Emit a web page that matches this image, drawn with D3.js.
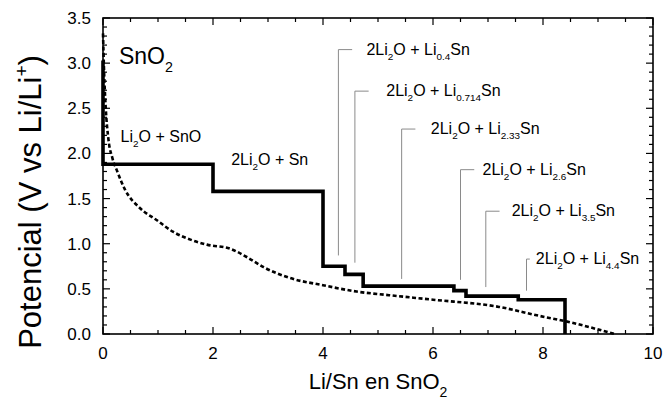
<!DOCTYPE html>
<html>
<head>
<meta charset="utf-8">
<script src="https://cdn.jsdelivr.net/npm/d3@7"></script>
<style>
  body { margin: 0; background: #fff; }
  svg { display: block; font-family: "Liberation Sans", Arial, sans-serif; }
</style>
</head>
<body>
<svg id="chart"></svg>
<script>
// plateau (step) curve: x in Li/Sn, potential in V
const plateauX = [0, 0, 2.0, 4.0, 4.4, 4.73, 6.38, 6.6, 7.55, 8.4]
const plateauV = [3.03, 1.88, 1.58, 0.75, 0.66, 0.53, 0.48, 0.42, 0.38, 0]

// measured discharge curve (dotted)
const curveX = [0, 0.02, 0.05, 0.1, 0.17, 0.26, 0.4, 0.68, 0.98, 1.28, 1.59, 1.89, 2.31, 2.62, 2.92, 3.4, 4.0, 4.61, 5.2, 6.0, 7.2, 7.94, 8.42, 9.3]
const curveV = [3.33, 2.9, 2.5, 2.15, 1.95, 1.8, 1.6, 1.39, 1.26, 1.13, 1.045, 0.99, 0.945, 0.85, 0.74, 0.62, 0.54, 0.47, 0.43, 0.38, 0.30, 0.2, 0.14, 0]

// phase annotations with leader lines
const phaseSub = ['0.4', '0.714', '2.33', '2.6', '3.5', '4.4']
const leaderX = [4.28, 4.58, 5.43, 6.5, 6.96, 7.7]
const leaderLow = [0.87, 0.79, 0.61, 0.60, 0.52, 0.48]
const leaderHigh = [3.15, 2.69, 2.27, 1.82, 1.36, 0.83]

const xTicks = [0, 2, 4, 6, 8, 10]
const yTicks = [0, 0.5, 1, 1.5, 2, 2.5, 3, 3.5]

const w = 666, h = 407
const margin = { top: 18, right: 13, bottom: 73, left: 103 }

const svg = d3.select('#chart').attr('width', w).attr('height', h)

const x = d3.scaleLinear().domain([0, 10]).range([margin.left, w - margin.right])
const y = d3.scaleLinear().domain([0, 3.5]).range([h - margin.bottom, margin.top])

// minor + major ticks, pointing inward on all four sides
const xMinor = d3.range(0, 10.01, 0.5)
const yMinor = d3.range(0, 3.501, 0.1)
const isMajorX = v => Math.abs(v / 2 - Math.round(v / 2)) < 1e-6
const isMajorY = v => Math.abs(v / 0.5 - Math.round(v / 0.5)) < 1e-6

const ticks = svg.append('g').attr('stroke', '#000').attr('stroke-width', 1.2)
xMinor.forEach(v => {
  const len = isMajorX(v) ? 7 : 4
  ticks.append('line').attr('x1', x(v)).attr('x2', x(v)).attr('y1', y(0)).attr('y2', y(0) - len)
  ticks.append('line').attr('x1', x(v)).attr('x2', x(v)).attr('y1', y(3.5)).attr('y2', y(3.5) + len)
})
yMinor.forEach(v => {
  const len = isMajorY(v) ? 7 : 4
  ticks.append('line').attr('x1', x(0)).attr('x2', x(0) + len).attr('y1', y(v)).attr('y2', y(v))
  ticks.append('line').attr('x1', x(10)).attr('x2', x(10) - len).attr('y1', y(v)).attr('y2', y(v))
})

svg.append('rect')
  .attr('x', x(0)).attr('y', y(3.5))
  .attr('width', x(10) - x(0)).attr('height', y(0) - y(3.5))
  .attr('fill', 'none').attr('stroke', '#000').attr('stroke-width', 1.6)

// tick labels
svg.append('g').selectAll('text').data(xTicks).join('text')
  .attr('x', d => x(d)).attr('y', y(0) + 25)
  .attr('text-anchor', 'middle').attr('font-size', 17)
  .text(d => d)
svg.append('g').selectAll('text').data(yTicks).join('text')
  .attr('x', x(0) - 12).attr('y', d => y(d) + 6)
  .attr('text-anchor', 'end').attr('font-size', 17)
  .text(d3.format('.1f'))

// axis titles
const xt = svg.append('text').attr('x', x(5) + 0).attr('y', h - 18)
  .attr('text-anchor', 'middle').attr('font-size', 22)
xt.append('tspan').text('Li/Sn en SnO')
xt.append('tspan').attr('font-size', 14).attr('dy', 8).text('2')

const yt = svg.append('text')
  .attr('transform', `translate(41, ${y(1.75) + 26}) rotate(-90)`)
  .attr('text-anchor', 'middle').attr('font-size', 31)
yt.append('tspan').text('Potencial (V vs Li/Li')
yt.append('tspan').attr('font-size', 19).attr('dy', -13).text('+')
yt.append('tspan').attr('dy', 13).text(')')

// leader lines
const lead = svg.append('g').attr('stroke', '#8a8a8a').attr('stroke-width', 1).attr('fill', 'none')
leaderX.forEach((lx, i) => {
  const tail = i === leaderX.length - 1 ? 0.06 : 0.25
  lead.append('path').attr('d', `M${x(lx)},${y(leaderLow[i])}V${y(leaderHigh[i])}H${x(lx + tail)}`)
})

// curves
const pts = (xs, vs) => xs.map((d, i) => [d, vs[i]])
svg.append('path')
  .datum(pts(curveX, curveV))
  .attr('d', d3.line().x(d => x(d[0])).y(d => y(d[1])).curve(d3.curveMonotoneX))
  .attr('fill', 'none').attr('stroke', '#000').attr('stroke-width', 2.6)
  .attr('stroke-dasharray', '4,2.5')

svg.append('path')
  .datum(pts(plateauX, plateauV))
  .attr('d', d3.line().x(d => x(d[0])).y(d => y(d[1])).curve(d3.curveStepAfter))
  .attr('fill', 'none').attr('stroke', '#000').attr('stroke-width', 3.6)
  .attr('stroke-linejoin', 'miter')

// formula labels
function formula(px, py, parts, size) {
  const t = svg.append('text').attr('x', px).attr('y', py).attr('font-size', size)
  let low = false
  parts.forEach(p => {
    const sub = p.startsWith('_')
    const s = t.append('tspan').text(sub ? p.slice(1) : p)
    if (sub) { s.attr('font-size', size * 0.62); if (!low) s.attr('dy', size * 0.33); low = true }
    else if (low) { s.attr('dy', -size * 0.33); low = false }
  })
  return t
}

formula(x(0.29), y(2.99), ['SnO', '_2'], 23)
formula(x(0.32), y(2.13), ['Li', '_2', 'O + SnO'], 16)
formula(x(2.33), y(1.87), ['2Li', '_2', 'O + Sn'], 16)

const textGap = [0.51, 0.57, 0.53, 0.40, 0.47, 0.17]
phaseSub.forEach((s, i) => {
  formula(x(leaderX[i] + textGap[i]), y(leaderHigh[i]) + 5, ['2Li', '_2', 'O + Li', '_' + s, 'Sn'], 16)
})
</script>
</body>
</html>
